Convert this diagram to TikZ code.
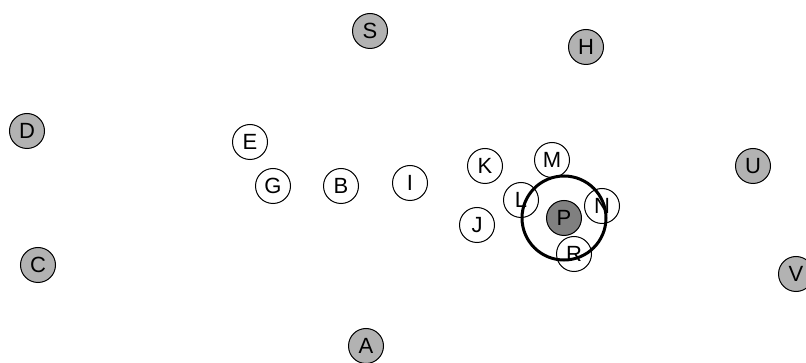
\documentclass[tikz,border=0pt]{standalone}
\usepackage{fontspec}
\setmainfont{Liberation Sans}
\begin{document}
\begin{tikzpicture}[x=1pt,y=-1pt,
  vtx/.style={circle,draw=black,line width=1pt,minimum size=35pt,inner sep=0pt,font=\fontsize{22}{22}\selectfont},
  outer/.style={vtx,fill=black!30},
  inner/.style={vtx,fill=white},
  hub/.style={vtx,fill=black!50},
  ring/.style={circle,draw=black,line width=3pt,minimum size=84pt,inner sep=0pt}]
\useasboundingbox (0,0) rectangle (806,363);
\node[outer] (S) at (370,31) {S};
\node[outer] (H) at (586,47) {H};
\node[outer] (D) at (27,131) {D};
\node[outer] (C) at (38,265) {C};
\node[outer] (U) at (753,166) {U};
\node[outer] (V) at (796,274) {V};
\node[outer] (A) at (366,346) {A};
\node[inner] (E) at (250,142) {E};
\node[inner] (G) at (273,186) {G};
\node[inner] (B) at (341,186) {B};
\node[inner] (I) at (410,183) {I};
\node[inner] (K) at (485,166) {K};
\node[inner] (J) at (477,225) {J};
\node[inner] (M) at (552,160) {M};
\node[inner] (L) at (521,200) {L};
\node[inner] (N) at (602,206) {N};
\node[inner] (R) at (574,254) {R};
\node[hub] (P) at (564,218) {P};
\node[ring] (Q) at (P) {};
\end{tikzpicture}
\end{document}
